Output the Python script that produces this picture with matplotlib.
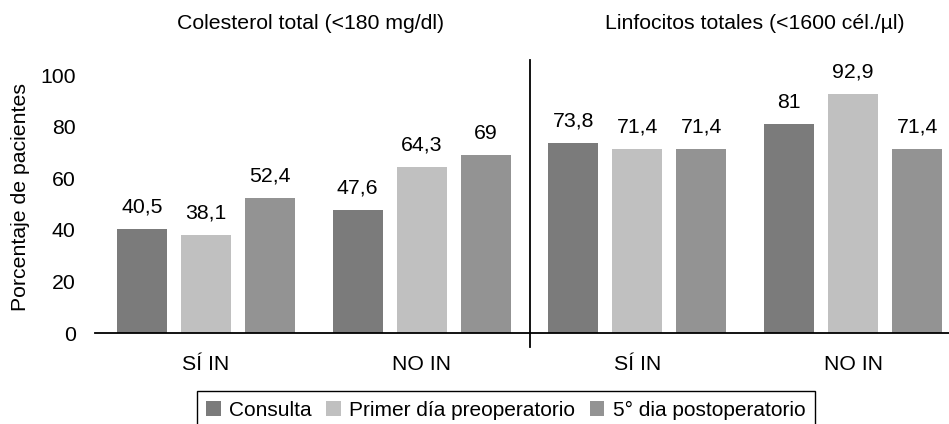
import numpy as np
import matplotlib
matplotlib.use("Agg")
import matplotlib.pyplot as plt

plt.rcParams['font.family'] = ['Liberation Sans', 'DejaVu Sans']

# datos
grupos = ['SÍ IN', 'NO IN', 'SÍ IN', 'NO IN']
paneles = ['Colesterol total (<180 mg/dl)', 'Linfocitos totales (<1600 cél./µl)']
series = ['Consulta', 'Primer día preoperatorio', '5° dia postoperatorio']
consulta = [40.5, 47.6, 73.8, 81]
primer_dia = [38.1, 64.3, 71.4, 92.9]
quinto_dia = [52.4, 69, 71.4, 71.4]
colores = ['#7b7b7b', '#c0c0c0', '#939393']

fs = 15.3

fig = plt.figure(figsize=(9.49, 4.24), dpi=100)
ax = fig.add_axes([0.1001, 0.2146, 0.8999, 0.6439])

x = np.arange(len(grupos))
ancho = 0.232
desp = [-0.297, 0, 0.297]

for valores, d, c, nombre in zip([consulta, primer_dia, quinto_dia], desp, colores, series):
    barras = ax.bar(x + d, valores, ancho, color=c, label=nombre)
    for b, v in zip(barras, valores):
        ax.annotate(f"{v:g}".replace('.', ','), (b.get_x() + b.get_width() / 2, v),
                    xytext=(0, 9), textcoords='offset points',
                    ha='center', va='bottom', fontsize=fs)

ax.set_xlim(-0.515, 3.445)
ax.set_ylim(0, 106)
ax.set_yticks([0, 20, 40, 60, 80, 100])
ax.set_xticks(x)
ax.set_xticklabels(grupos, fontsize=fs)
ax.tick_params(axis='y', length=0, pad=14, labelsize=fs)
ax.tick_params(axis='x', length=0, pad=16)
for s in ['top', 'right', 'left']:
    ax.spines[s].set_visible(False)
ax.spines['bottom'].set_linewidth(1.3)

ax.axvline(1.5, ymin=-0.052, ymax=1, color='black', lw=1.3, clip_on=False)

ax.set_ylabel('Porcentaje de pacientes', fontsize=fs, labelpad=7)

fig.text(0.327, 0.945, paneles[0], ha='center', va='center', fontsize=fs)
fig.text(0.795, 0.945, paneles[1], ha='center', va='center', fontsize=fs)

fig.legend(loc='lower center', bbox_to_anchor=(0.533, -0.012), ncol=3, fontsize=15,
           frameon=True, fancybox=False, edgecolor='black', framealpha=1,
           handlelength=0.7, handleheight=0.7, handletextpad=0.4,
           columnspacing=0.7, borderpad=0.45, borderaxespad=0.0)

fig.savefig('out.png', dpi=100)
